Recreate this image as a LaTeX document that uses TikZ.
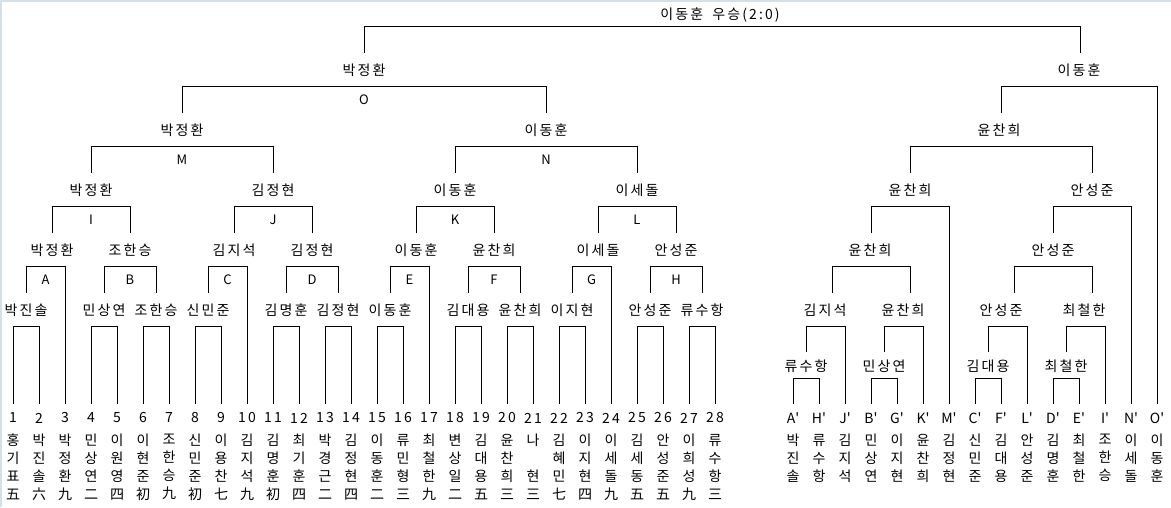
\documentclass[tikz,border=0pt]{standalone}
\usepackage{fontspec}
\setmainfont{Noto Sans CJK KR}[LetterSpace=15]
\definecolor{framegray}{RGB}{214,222,232}
\begin{document}
\begin{tikzpicture}[x=1pt,y=-1pt,line width=1pt,
    player/.style={font=\fontsize{14}{18}\selectfont,inner sep=0pt},
    gamelbl/.style={font=\fontsize{13}{16}\selectfont,inner sep=0pt},
    leafnum/.style={font=\fontsize{14}{18}\selectfont,inner sep=0pt},
    leafname/.style={font=\fontsize{14}{18}\selectfont,inner sep=0pt,align=center,anchor=north}]
\useasboundingbox (0,0) rectangle (1171,507);
\draw [framegray,line width=2pt] (1,507) -- (1,1) -- (1171,1);

% Final
\draw (364,52.5) |- (1080,26.5) -- (1080,52.5);
\node [player] (champ) at (720,15) {이동훈\hspace{4pt} 우승(2:0)};

% Drawing the main bracket, first round
\foreach \a/\b in {13/39,91/117,143/169,195/221,273/299,325/351,377/403,455/481,507/533,559/585,637/663,689/715}
  \draw (\a,404) |- (\b,326.5) -- (\b,404);

% Drawing games A to H
\draw (26,292.5) |- (65,266.5) -- (65,404);
\draw (104,292.5) |- (156,266.5) -- (156,292.5);
\draw (208,292.5) |- (247,266.5) -- (247,404);
\draw (286,292.5) |- (338,266.5) -- (338,292.5);
\draw (390,292.5) |- (429,266.5) -- (429,404);
\draw (468,292.5) |- (520,266.5) -- (520,292.5);
\draw (572,292.5) |- (611,266.5) -- (611,404);
\draw (650,292.5) |- (702,266.5) -- (702,292.5);

% Drawing games I to L
\draw (52,232.5) |- (130,206.5) -- (130,232.5);
\draw (234,232.5) |- (312,206.5) -- (312,232.5);
\draw (416,232.5) |- (494,206.5) -- (494,232.5);
\draw (598,232.5) |- (676,206.5) -- (676,232.5);

% Drawing games M, N and O
\draw (91,172.5) |- (273,146.5) -- (273,172.5);
\draw (455,172.5) |- (637,146.5) -- (637,172.5);
\draw (182,112.5) |- (546,86.5) -- (546,112.5);

% Drawing the second bracket
\foreach \a/\b in {793/819,871/897,975/1001,1053/1079}
  \draw (\a,404) |- (\b,378.5) -- (\b,404);
\draw (806,352) |- (845,326.5) -- (845,404);
\draw (884,352) |- (923,326.5) -- (923,404);
\draw (988,352) |- (1027,326.5) -- (1027,404);
\draw (1066,352) |- (1105,326.5) -- (1105,404);
\draw (832,292.5) |- (910,266.5) -- (910,292.5);
\draw (1014,292.5) |- (1092,266.5) -- (1092,292.5);
\draw (871,232.5) |- (949,206.5) -- (949,404);
\draw (1053,232.5) |- (1131,206.5) -- (1131,404);
\draw (910,172.5) |- (1092,146.5) -- (1092,172.5);
\draw (1001,112.5) |- (1157,86.5) -- (1157,404);

% Game letters
\node [gamelbl] (gA) at (45.5,280) {A};
\node [gamelbl] (gB) at (130,280) {B};
\node [gamelbl] (gC) at (227.5,280) {C};
\node [gamelbl] (gD) at (312,280) {D};
\node [gamelbl] (gE) at (409.5,280) {E};
\node [gamelbl] (gF) at (494,280) {F};
\node [gamelbl] (gG) at (591.5,280) {G};
\node [gamelbl] (gH) at (676,280) {H};
\node [gamelbl] (gI) at (91,220) {I};
\node [gamelbl] (gJ) at (273,220) {J};
\node [gamelbl] (gK) at (455,220) {K};
\node [gamelbl] (gL) at (637,220) {L};
\node [gamelbl] (gM) at (182,160) {M};
\node [gamelbl] (gN) at (546,160) {N};
\node [gamelbl] (gO) at (364,100) {O};

% Winners, main bracket
\node [player] (wO) at (364,70) {박정환};
\node [player] (wM) at (182,130) {박정환};
\node [player] (wN) at (546,130) {이동훈};
\node [player] (wI) at (91,190) {박정환};
\node [player] (wJ) at (273,190) {김정현};
\node [player] (wK) at (455,190) {이동훈};
\node [player] (wL) at (637,190) {이세돌};
\node [player] (wA) at (52,250) {박정환};
\node [player] (wB) at (130,250) {조한승};
\node [player] (wC) at (234,250) {김지석};
\node [player] (wD) at (312,250) {김정현};
\node [player] (wE) at (416,250) {이동훈};
\node [player] (wF) at (494,250) {윤찬희};
\node [player] (wG) at (598,250) {이세돌};
\node [player] (wH) at (676,250) {안성준};
\node [player] (r1) at (26,310) {박진솔};
\node [player] (r4) at (104,310) {민상연};
\node [player] (r6) at (156,310) {조한승};
\node [player] (r8) at (208,310) {신민준};
\node [player] (r11) at (286,310) {김명훈};
\node [player] (r13) at (338,310) {김정현};
\node [player] (r15) at (390,310) {이동훈};
\node [player] (r18) at (468,310) {김대용};
\node [player] (r20) at (520,310) {윤찬희};
\node [player] (r22) at (572,310) {이지현};
\node [player] (r25) at (650,310) {안성준};
\node [player] (r27) at (702,310) {류수항};

% Winners, second bracket
\node [player] (sFin) at (1079,70) {이동훈};
\node [player] (s5) at (999,130) {윤찬희};
\node [player] (s4a) at (910,190) {윤찬희};
\node [player] (s4b) at (1092,190) {안성준};
\node [player] (s3a) at (870,250) {윤찬희};
\node [player] (s3b) at (1053,250) {안성준};
\node [player] (s2a) at (825,310) {김지석};
\node [player] (s2b) at (903,310) {윤찬희};
\node [player] (s2c) at (1001,310) {안성준};
\node [player] (s2d) at (1084,310) {최철한};
\node [player] (s1a) at (806,366) {류수항};
\node [player] (s1b) at (884,366) {민상연};
\node [player] (s1c) at (988,366) {김대용};
\node [player] (s1d) at (1066,366) {최철한};

% Entrants
\foreach \n/\ka/\kb/\kc/\kd [count=\i from 0] in {1/홍/기/표/五,2/박/진/솔/六,3/박/정/환/九,4/민/상/연/二,5/이/원/영/四,6/이/현/준/初,7/조/한/승/九,8/신/민/준/初,9/이/용/찬/七,10/김/지/석/九,11/김/명/훈/初,12/최/기/훈/四,13/박/경/근/二,14/김/정/현/四,15/이/동/훈/二,16/류/민/형/三,17/최/철/한/九,18/변/상/일/二,19/김/대/용/五,20/윤/찬/희/三,21/나/{}/현/三,22/김/혜/민/七,23/이/지/현/四,24/이/세/돌/九,25/김/세/동/五,26/안/성/준/五,27/이/희/성/九,28/류/수/항/三}
{
  \node [leafnum] (num\n) at ({13+26*\i},418) {\n};
  \node [leafname] (leaf\n) at ({13+26*\i},433.5) {\ka\\\kb\\\kc\\\kd};
}
\foreach \n/\ka/\kb/\kc [count=\i from 0] in {A/박/진/솔,H/류/수/항,J/김/지/석,B/민/상/연,G/이/지/현,K/윤/찬/희,M/김/정/현,C/신/민/준,F/김/대/용,L/안/성/준,D/김/명/훈,E/최/철/한,I/조/한/승,N/이/세/돌,O/이/동/훈}
{
  \node [leafnum] (snum\n) at ({793+26*\i},418) {\n\textquotesingle};
  \node [leafname] (sleaf\n) at ({793+26*\i},433.5) {\ka\\\kb\\\kc};
}
\end{tikzpicture}
\end{document}
